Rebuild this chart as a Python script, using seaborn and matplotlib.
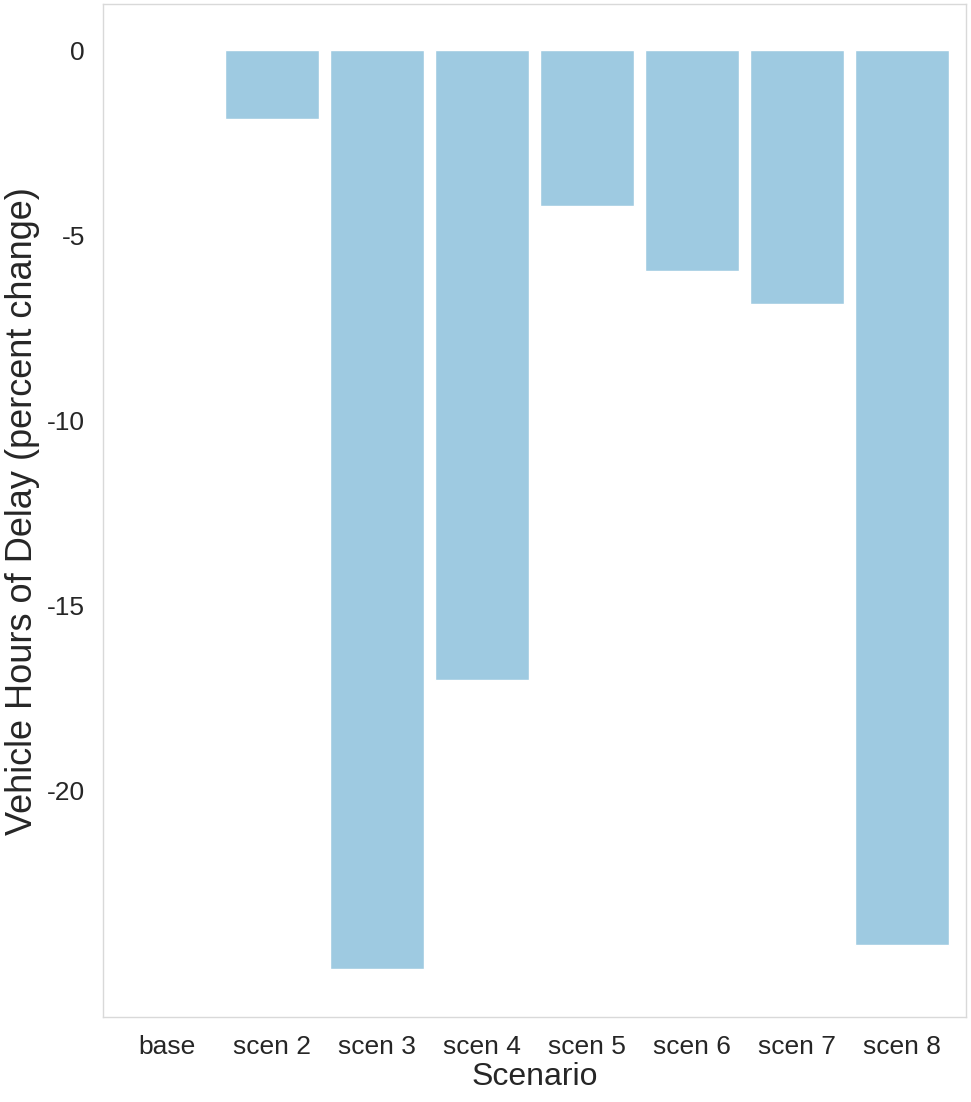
import matplotlib
matplotlib.use("Agg")
import matplotlib.pyplot as plt
import seaborn as sns
import pandas as pd

scenarios = ["base", "scen 2", "scen 3", "scen 4", "scen 5", "scen 6", "scen 7", "scen 8"]
delay_change = [0.0, -1.86, -24.84, -17.03, -4.22, -5.97, -6.86, -24.2]
yticks = [0, -5, -10, -15, -20]

df = pd.DataFrame({"Scenario": scenarios, "delay": delay_change})

sns.set_style("white")
plt.rcParams["font.family"] = ["Liberation Sans", "DejaVu Sans"]

fig = plt.figure(figsize=(9.71, 11.02), dpi=100)
ax = fig.add_axes([0.106, 0.077, 0.889, 0.919])

sns.barplot(data=df, x="Scenario", y="delay", color="#9ecae1", saturation=1,
            width=0.9, ax=ax)

ax.set_xlim(-0.61, 7.61)
ax.set_ylim(-26.14, 1.24)
ax.set_yticks(yticks)
ax.set_yticklabels([str(t) for t in yticks])

ax.set_xlabel("Scenario", fontsize=23, labelpad=2)
ax.set_ylabel("Vehicle Hours of Delay (percent change)", fontsize=26)
ax.yaxis.set_label_coords(-0.073, 0.5)
ax.tick_params(axis="both", direction="out", length=7, width=1, color="#cccccc",
               labelsize=19, pad=6)

for s in ax.spines.values():
    s.set_color("#d9d9d9")
    s.set_linewidth(1)

fig.savefig("out.png", dpi=100)
